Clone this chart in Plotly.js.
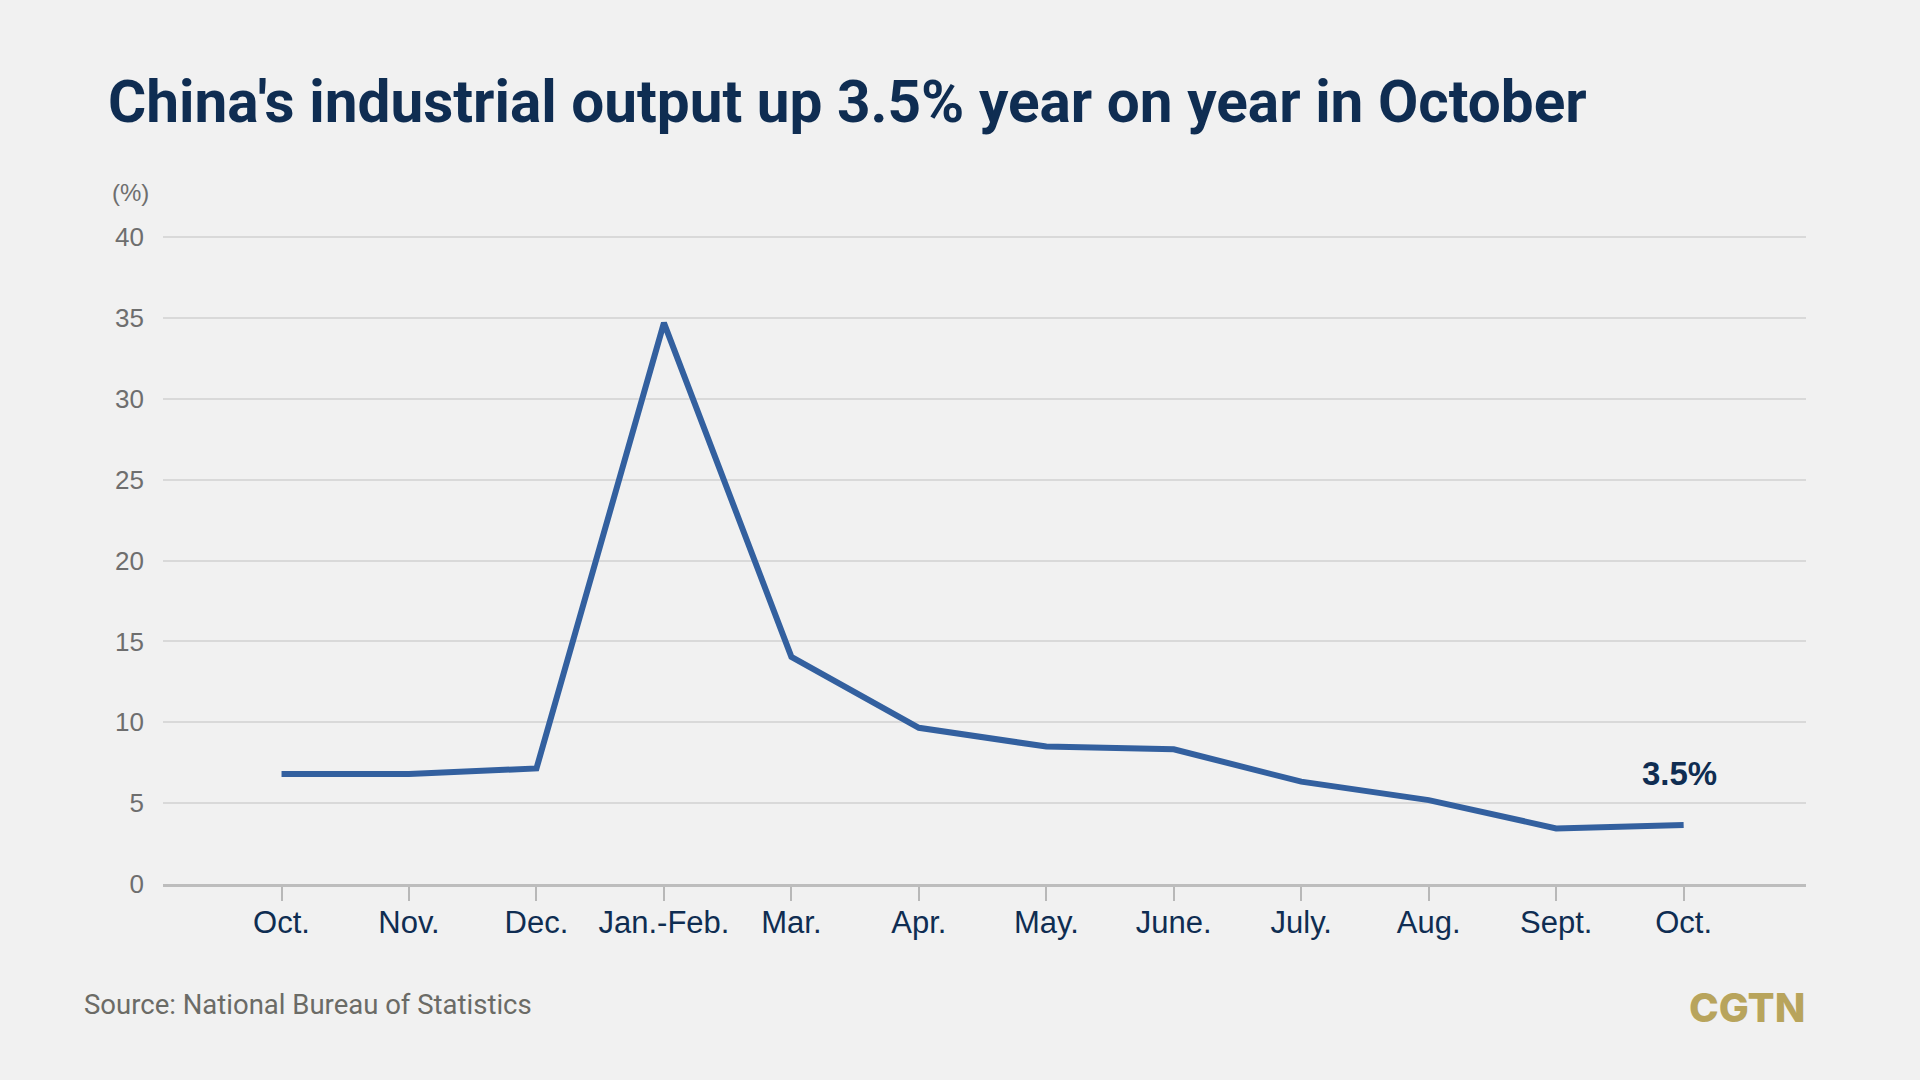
<!DOCTYPE html>
<html>
<head>
<meta charset="utf-8">
<script src="https://cdn.plot.ly/plotly-3.0.1.min.js"></script>
<style>
  html, body { margin: 0; padding: 0; background: #f1f1f1; }
  #chart { width: 1920px; height: 1080px; }
</style>
</head>
<body>
<div id="chart"></div>
<script>
const categories = ["Oct.", "Nov.", "Dec.", "Jan.-Feb.", "Mar.", "Apr.", "May.", "June.", "July.", "Aug.", "Sept.", "Oct."];
const outputGrowth = [6.8, 6.8, 7.15, 34.7, 14.05, 9.66, 8.5, 8.33, 6.33, 5.19, 3.44, 3.65];
const yTicks = [0, 5, 10, 15, 20, 25, 30, 35, 40];
const latestLabel = "3.5%";
const titleText = "China's industrial output up 3.5% year on year in October";
const sourceText = "Source: National Bureau of Statistics";
const unitText = "(%)";
const brandText = "CGTN";

const xIdx = categories.map((_, i) => i);
const navy = "#0f2d52";

const trace = {
  x: xIdx,
  y: outputGrowth,
  type: "scatter",
  mode: "lines",
  line: { color: "#33609f", width: 6 },
  hoverinfo: "skip"
};

const layout = {
  width: 1920,
  height: 1080,
  paper_bgcolor: "#f1f1f1",
  plot_bgcolor: "#f1f1f1",
  margin: { l: 163, r: 114, t: 234, b: 196 },
  showlegend: false,
  title: {
    text: titleText,
    font: { family: "Roboto, sans-serif", size: 58.5, color: navy, weight: 700 },
    xref: "container", yref: "container",
    x: 108 / 1920, xanchor: "left",
    y: 1 - 102 / 1080, yanchor: "middle"
  },
  xaxis: {
    range: [-0.93, 11.96],
    tickvals: xIdx,
    ticktext: categories,
    showgrid: false,
    zeroline: false,
    showline: true,
    linecolor: "#bdbdbd",
    linewidth: 3,
    ticks: "outside",
    ticklen: 14,
    tickwidth: 2,
    tickcolor: "#b8b8b8",
    ticklabelstandoff: -5,
    tickfont: { family: "Liberation Sans, Arial, sans-serif", size: 31, color: navy },
    fixedrange: true
  },
  yaxis: {
    range: [0, 40.2],
    tickvals: yTicks,
    showgrid: true,
    gridcolor: "#d9d9d9",
    gridwidth: 2,
    zeroline: false,
    showline: false,
    ticks: "",
    ticklabelstandoff: 18,
    tickfont: { family: "Liberation Sans, Arial, sans-serif", size: 26, color: "#6e6e6e" },
    fixedrange: true
  },
  annotations: [
    {
      x: xIdx[xIdx.length - 1], y: outputGrowth[outputGrowth.length - 1],
      xref: "x", yref: "y",
      text: latestLabel, showarrow: false,
      yshift: 51, xshift: -4,
      font: { family: "Liberation Sans, Arial, sans-serif", size: 33, color: navy, weight: 700 }
    },
    {
      x: (130 - 163) / 1643, y: (884 - 192) / 650,
      xref: "paper", yref: "paper",
      xanchor: "center", yanchor: "middle",
      text: unitText, showarrow: false,
      font: { family: "Liberation Sans, Arial, sans-serif", size: 24, color: "#6e6e6e" }
    },
    {
      x: (82 - 163) / 1643, y: (884 - 1004) / 650,
      xref: "paper", yref: "paper",
      xanchor: "left", yanchor: "middle",
      text: sourceText, showarrow: false,
      font: { family: "Roboto, sans-serif", size: 27.5, color: "#6b6b66" }
    },
    {
      x: (1807 - 163) / 1643, y: (884 - 1007) / 650,
      xref: "paper", yref: "paper",
      xanchor: "right", yanchor: "middle",
      text: brandText, showarrow: false,
      font: { family: "Inter, Lato, sans-serif", size: 40, color: "#b8a45c", weight: 800 }
    }
  ]
};

Plotly.newPlot("chart", [trace], layout, { staticPlot: true, displayModeBar: false });
</script>
</body>
</html>
